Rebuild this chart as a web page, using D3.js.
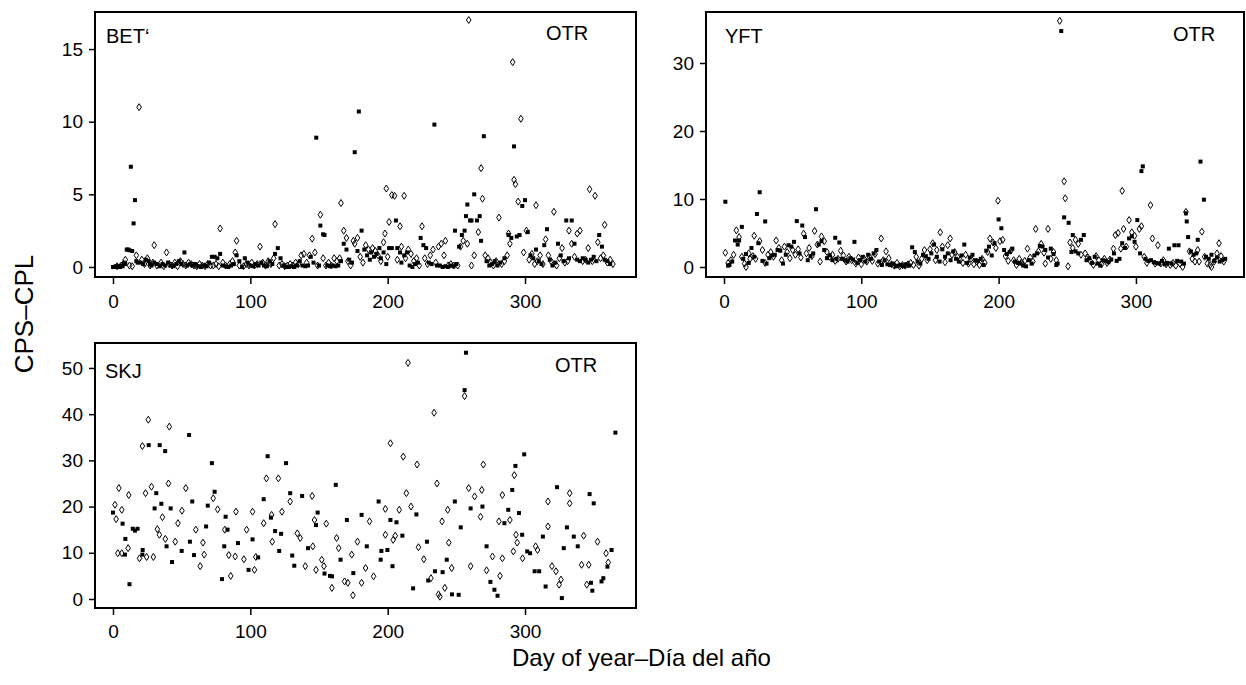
<!DOCTYPE html>
<html>
<head>
<meta charset="utf-8">
<script src="https://cdn.jsdelivr.net/npm/d3@7/dist/d3.min.js"></script>
<style>
  body { margin: 0; background: #fff; }
  svg { display: block; }
  text { font-family: "Liberation Sans", Arial, sans-serif; fill: #000; }
</style>
</head>
<body>
<svg id="chart" width="1246" height="685"></svg>
<script>
// ── Data: [day of year, CPS-CPL] ─────────────────────────────────
const dayTicks = [0, 100, 200, 300];
const betTicks = [0, 5, 10, 15];
const yftTicks = [0, 10, 20, 30];
const skjTicks = [0, 10, 20, 30, 40, 50];

const betSquares = [
  [0,0],[1,0],[2,0.05],[3,0],[4,0.05],[5,0],[6,0.1],[7,0.05],[8,0.3],[9,0.2],
  [10,1.2],[11,1.2],[12,1.15],[13,6.9],[14,1.1],[15,3.0],[16,4.6],[17,0.4],[18,0.3],[20,0.3],
  [22,0.2],[24,0.5],[26,0.4],[27,0.2],[28,0.1],[30,0.3],[32,0.2],[34,0.05],[36,0.2],[38,0.1],
  [40,0.3],[42,0.1],[44,0.05],[46,0.2],[48,0.4],[50,0.2],[52,1.0],[54,0.1],[56,0.2],[58,0.1],
  [60,0.2],[62,0.05],[64,0],[66,0.1],[68,0.05],[70,0.3],[72,0.7],[74,0.7],[76,0.6],[78,0.9],
  [80,0.1],[82,0.05],[84,0],[86,0.1],[88,0.2],[90,0.8],[92,0.4],[94,0],[96,0.6],[98,0.3],
  [100,0.1],[102,0.05],[104,0.2],[106,0.1],[108,0.3],[110,0.1],[112,0.05],[114,0.4],[116,0.2],[118,0.9],
  [120,1.3],[122,0.6],[124,0.1],[126,0],[128,0],[130,0.05],[132,0],[134,0.1],[136,0.4],[138,0.1],
  [140,0.05],[142,0.1],[144,0.7],[146,0.3],[148,8.9],[150,0.1],[151,2.85],[153,2.25],[154,2.2],[156,0.1],
  [158,0.05],[160,0.1],[162,0.05],[164,0.1],[166,0.4],[168,1.6],[170,1.2],[172,0.5],[174,0.3],[176,7.9],
  [178,1.1],[179,10.7],[181,2.5],[183,1.2],[185,0.8],[187,0.5],[188,1.0],[190,0.7],[192,0.9],[194,1.3],
  [195,0.6],[197,1.0],[199,0.2],[201,1.3],[203,1.3],[206,3.2],[207,1.3],[209,1.0],[210,0.3],[212,0.8],
  [214,1.0],[216,0.1],[218,0],[220,0.2],[222,0.3],[224,2.0],[226,1.5],[228,1.3],[230,0.3],[232,0.2],
  [234,9.8],[236,0.1],[238,0.1],[240,0],[242,0.05],[244,0],[246,0.1],[248,0.05],[249,2.5],[250,0.2],
  [252,1.4],[254,2.2],[256,2.5],[257,3.5],[258,4.3],[260,3.2],[261,3.2],[263,5.0],[265,3.2],[267,3.5],
  [268,1.8],[270,9.0],[272,0.4],[274,0.1],[276,0.2],[278,0.4],[280,0.1],[282,0.3],[285,0.6],[288,2.2],
  [290,2.0],[292,8.3],[294,2.1],[296,2.2],[298,4.2],[300,4.6],[302,2.4],[304,0.8],[306,0.6],[308,1.2],
  [310,0.4],[312,0.2],[314,1.5],[316,2.6],[318,0.5],[320,0.1],[322,0.3],[324,1.6],[326,0.8],[328,0.4],
  [330,3.2],[332,0.6],[334,3.2],[336,1.6],[338,0.5],[340,0.4],[342,0.6],[344,0.5],[346,0.3],[348,0.5],
  [350,0.7],[352,0.4],[354,2.2],[356,1.4],[358,0.5],[360,0.4],[362,0.2]
];
const betDiamonds = [
  [3,0.05],[6,0.1],[9,0.5],[12,0.1],[14,0.05],[17,0.8],[19,11.0],[21,0.5],[23,0.2],[25,0.6],
  [27,0.1],[29,0.3],[30,1.5],[32,0.1],[35,0.3],[37,0.05],[39,1.0],[41,0.2],[43,0.1],[45,0.3],
  [47,0.05],[49,0.4],[51,0.2],[53,0.1],[55,0.3],[57,0.2],[59,0.1],[61,0.05],[63,0.2],[65,0.1],
  [67,0.05],[69,0.2],[71,0.1],[73,0.1],[75,0.2],[77,0.05],[78,2.65],[80,0.3],[82,0.1],[85,0.2],
  [87,0.4],[89,1.0],[90,1.8],[92,0.1],[95,0.05],[97,0.2],[99,0.1],[101,0.3],[103,0.1],[105,0.2],
  [107,1.4],[109,0.3],[111,0.1],[113,0.4],[115,0.2],[117,0.6],[118,2.95],[121,0.1],[123,0.2],[125,0.05],
  [127,0.1],[129,0.2],[131,0.1],[133,0.3],[135,0.2],[137,0.8],[139,0.9],[141,0.3],[143,0.8],[145,1.95],
  [147,1.0],[149,0.1],[151,3.6],[153,0.6],[155,0.1],[157,0.3],[159,0.1],[161,0.6],[163,0.4],[165,0.6],
  [166,4.4],[168,2.5],[170,2.0],[171,0.4],[173,0.1],[175,1.8],[176,1.6],[178,2.0],[180,0.7],[182,0.3],
  [184,1.5],[186,1.2],[189,1.3],[191,1.1],[193,0.8],[195,0.4],[197,1.7],[198,2.3],[199,5.4],[200,0.7],
  [201,3.1],[203,4.95],[205,4.9],[207,0.5],[209,2.8],[210,1.4],[212,4.9],[213,0.6],[215,1.2],[217,0.9],
  [219,0.4],[221,0.6],[223,0.1],[225,2.8],[227,0.6],[229,0.2],[231,0.8],[233,1.2],[235,0.3],[237,1.4],
  [239,1.6],[241,0.8],[242,1.8],[244,0.1],[246,0.2],[248,0.1],[251,0.1],[253,1.4],[255,1.8],[258,1.6],
  [259,17.0],[261,0.1],[263,0.8],[266,2.4],[268,6.8],[269,4.7],[271,0.8],[273,0.6],[275,0.3],[277,0.1],
  [279,0.4],[281,3.4],[283,0.2],[285,0.4],[287,0.8],[288,2.3],[289,1.6],[291,14.1],[292,6.0],[293,5.7],
  [295,4.5],[297,10.2],[299,1.0],[301,2.5],[303,0.5],[305,0.9],[307,0.2],[308,4.25],[309,0.4],[311,0.8],
  [313,0.2],[315,1.9],[317,0.8],[319,0.4],[321,3.8],[323,0.1],[325,0.6],[327,1.3],[329,0.3],[331,0.4],
  [332,2.5],[334,1.6],[336,0.7],[338,2.3],[340,2.5],[342,0.4],[344,0.5],[346,1.3],[347,5.35],[349,0.4],
  [351,4.9],[353,1.7],[355,0.6],[357,0.8],[358,2.9],[360,0.3],[362,0.5],[364,0.2]
];

const yftSquares = [
  [1,9.6],[3,0.2],[4,0.3],[6,0.8],[8,3.9],[10,3.3],[11,3.9],[13,5.9],[14,1.2],[16,1.9],
  [18,0.6],[20,2.8],[22,1.5],[24,7.8],[25,3.5],[26,11.0],[28,0.9],[30,6.7],[31,0.5],[33,1.3],
  [35,1.7],[37,1.8],[39,2.5],[41,2.4],[43,0.5],[45,1.8],[47,3.2],[49,3.0],[51,3.7],[53,6.75],
  [55,2.0],[57,6.1],[59,4.4],[61,1.0],[63,1.6],[65,2.0],[67,8.5],[69,3.3],[71,3.8],[73,2.5],
  [75,1.3],[77,1.7],[79,1.0],[81,4.3],[82,1.2],[84,3.6],[86,1.2],[88,1.0],[90,0.8],[92,1.3],
  [94,1.1],[95,3.7],[97,0.6],[99,1.0],[101,1.5],[103,0.8],[105,1.8],[107,1.2],[109,2.0],[111,2.5],
  [113,0.8],[115,0.3],[117,1.0],[119,0.4],[121,0.3],[123,0.5],[125,0.1],[127,0.2],[129,0.3],[131,0.1],
  [133,0.4],[135,0.2],[137,2.9],[139,2.2],[141,0.8],[143,0.5],[145,1.8],[147,1.6],[149,1.2],[151,2.0],
  [153,3.3],[155,1.5],[157,0.8],[159,2.6],[161,1.5],[163,2.0],[165,1.0],[167,2.3],[169,1.2],[171,0.8],
  [173,1.7],[175,3.3],[177,0.6],[179,1.4],[181,1.8],[183,1.0],[185,0.9],[187,1.2],[189,0.3],[191,2.4],
  [193,3.0],[195,1.7],[197,3.5],[200,7.0],[202,5.7],[204,2.5],[206,1.9],[208,2.2],[210,2.7],[212,0.8],
  [214,0.6],[216,0.5],[218,0.2],[220,0.1],[222,1.0],[224,0.5],[226,1.7],[228,2.0],[230,3.1],[232,3.0],
  [234,2.5],[236,1.4],[238,2.7],[240,1.9],[242,0.3],[243,0.5],[245.6,34.7],[247.7,7.3],[251,6.5],[253,2.2],
  [254,4.7],[256,2.3],[258,2.0],[260,4.0],[262,4.7],[264,1.0],[266,1.3],[268,0.6],[270,1.5],[272,0.5],
  [274,0.2],[276,1.0],[278,0.9],[280,0.7],[282,1.1],[284,2.0],[286,0.9],[288,1.2],[290,3.5],[292,2.8],
  [295,4.2],[297,4.5],[299,3.7],[301,6.9],[303,2.0],[304,14.1],[305,14.8],[307,1.2],[309,0.9],[311,1.0],
  [313,0.7],[315,0.6],[317,0.5],[319,0.9],[321,0.4],[323,0.6],[324,2.7],[326,0.5],[328,3.2],[330,0.9],
  [331,3.2],[333,0.8],[335,0.5],[336.4,7.9],[337,6.7],[338,4.4],[340,2.3],[342,1.8],[344,2.0],[345,4.0],
  [347,15.5],[349.5,9.9],[351,1.5],[353,1.2],[355,1.8],[357,0.9],[359,1.4],[361,0.8],[363,1.0],[365,1.2]
];
const yftDiamonds = [
  [1,2.1],[3,0.6],[5,1.0],[7,1.8],[9,5.4],[11,4.4],[13,1.5],[15,0.5],[16,0.0],[18,2.0],
  [19,1.2],[21,1.6],[22,4.6],[23,1.2],[26,3.8],[28,2.5],[30,0.6],[32,1.8],[34,2.2],[36,1.5],
  [38,3.9],[40,2.8],[42,1.0],[44,3.0],[46,2.2],[48,1.3],[50,2.5],[52,1.8],[54,2.6],[56,1.4],
  [58,4.9],[60,2.0],[62,2.8],[64,1.6],[66,5.3],[68,3.3],[70,0.8],[71,4.5],[73,3.8],[75,2.2],
  [77,1.5],[79,1.8],[81,0.9],[83,1.2],[85,2.4],[87,1.7],[89,0.8],[91,1.5],[93,1.0],[96,0.5],
  [98,1.4],[100,0.4],[102,1.2],[104,0.8],[106,1.5],[108,0.9],[110,1.9],[112,0.5],[114.5,4.2],[116,1.0],
  [118,2.3],[120,1.3],[122,0.4],[124,0.2],[126,0.6],[128,0.1],[130,0.3],[132,0.2],[134,0.4],[136,0.6],
  [138,0.3],[140,1.5],[142,0.2],[144,1.2],[146,2.5],[148,1.0],[150,2.6],[152,3.5],[154,1.0],[155,2.5],
  [157.5,5.1],[159,3.0],[161,0.7],[163,3.2],[164.7,4.2],[166,1.8],[168,2.2],[170,1.5],[172,1.0],[174,0.6],
  [176,1.8],[178,0.5],[180,1.2],[182,0.4],[184,0.8],[186,0.3],[188,1.2],[190,0.6],[192,2.2],[193.7,4.2],
  [196,3.6],[198,2.8],[199.5,9.75],[201,3.8],[203,4.0],[205,1.6],[207,0.9],[209,2.4],[211,1.0],[213,0.3],
  [215,1.2],[217,0.6],[219,0.9],[221,2.7],[223,1.4],[225,0.8],[227,5.6],[229,2.3],[231,3.4],[233,2.1],
  [234,0.5],[236,5.6],[238,1.2],[240,2.2],[242,1.0],[244.5,36.2],[247.7,12.6],[248.5,10.1],[250.6,0.1],[252,3.6],
  [254,2.8],[256,4.0],[258,3.4],[260,1.8],[263,2.0],[265,1.4],[267,0.8],[269,0.3],[271,1.6],[273,1.0],
  [275,0.4],[277,1.2],[279,0.6],[281,1.1],[283.6,2.7],[285,4.7],[287,5.0],[289,2.7],[290,11.2],[291,5.6],
  [293,3.0],[295,6.9],[297,5.1],[299,4.6],[300,3.0],[302.5,5.6],[304,6.0],[306,1.5],[308,0.6],[310.6,9.1],
  [312,4.2],[314,0.5],[316,3.2],[318,0.5],[320,1.0],[322,0.4],[325,0.3],[327,0.6],[329,0.2],[332,0.5],
  [334,0.0],[336.4,8.1],[339,2.3],[341,1.2],[343,0.8],[345,2.5],[346,0.8],[348,5.2],[350,1.5],[352,0.5],
  [354,0.3],[355,0.0],[357,0.8],[359,2.0],[360.5,3.5],[362,1.6],[364,0.8]
];

const skjSquares = [
  [0,18.7],[7,16.3],[9,13.0],[8.7,9.6],[12,3.2],[14.4,15.2],[16,14.8],[17.9,15.2],[21.6,10.6],[21.4,9.6],
  [26,33.3],[30.3,19.6],[31.5,22.9],[34,33.3],[35.2,20.6],[38,32.0],[39,11.4],[42,19.6],[43,8.0],[50,10.4],
  [55.4,35.5],[56,12.4],[57.7,21.1],[59,9.5],[67.8,15.7],[69,20.2],[72,29.4],[74,23.2],[79.4,4.3],[81,11.4],
  [82,17.8],[83.4,15.0],[91,12.1],[98.7,6.3],[101.6,12.9],[105.7,9.0],[109.7,21.6],[112.6,30.9],[115,17.6],[118,14.7],
  [121,10.4],[122.4,14.1],[126,29.4],[129,22.9],[130.5,9.4],[132,7.2],[137.7,22.3],[142,11.0],[147.8,16.0],[149,18.7],
  [154,5.5],[158,5.0],[159.5,4.9],[162.2,24.7],[165.7,8.5],[170.3,17.1],[175,5.6],[181,18.2],[184.8,11.4],[193.4,21.1],
  [194.9,8.5],[195.4,10.4],[199.8,10.6],[202,17.1],[203.5,7.1],[206.4,16.6],[210.7,13.7],[218.5,2.3],[220.9,18.3],[228.6,12.4],
  [229.5,4.0],[234.4,6.0],[240,5.8],[243,8.5],[246.8,1.0],[248.9,21.1],[251.7,0.9],[253.2,15.5],[256,45.2],[257,53.3],
  [260.4,19.6],[269,20.0],[272,11.4],[274.8,3.7],[277.7,2.0],[280,0.7],[285,16.4],[287.8,19.3],[290.7,23.6],[293,28.8],
  [295.6,18.6],[297.9,13.9],[299.4,31.3],[301.6,10.3],[303.7,9.9],[307,6.0],[310.3,6.0],[313,13.5],[315,2.7],[323.3,24.2],
  [326.8,0.2],[328.2,11.0],[330.5,15.5],[335.5,13.5],[338.4,11.4],[347,22.7],[348,3.5],[349,1.8],[350,20.7],[355.7,3.8],
  [357,4.5],[360,7.0],[363,10.6],[365.8,36.0]
];
const skjDiamonds = [
  [1.4,20.4],[2.3,17.3],[3.5,9.9],[4.3,24.0],[6.4,19.3],[6.4,9.9],[11,11.0],[11.5,22.5],[19.3,8.8],[21.4,33.1],
  [23.7,22.9],[24.5,9.1],[25.7,38.8],[28,24.3],[29.4,9.1],[32.3,15.1],[33.8,13.9],[36,17.7],[38.1,13.0],[40.4,25.0],
  [41,37.3],[45.3,12.4],[47.3,16.4],[50.2,19.1],[53,24.0],[60.3,15.0],[63.5,7.1],[65.5,12.2],[66.4,9.6],[73,21.8],
  [76.2,19.4],[81.4,15.0],[84.3,9.5],[85.7,5.0],[89,9.2],[89.5,18.9],[95.3,8.6],[97.3,15.0],[101.6,18.9],[103,6.3],
  [104,9.1],[109.7,16.4],[111.7,26.1],[115.5,18.2],[116,12.4],[120.4,26.1],[123,18.9],[129,21.1],[134.2,14.2],[136.3,13.2],
  [140,7.1],[145,22.3],[145.5,11.4],[146.7,17.1],[147.8,6.3],[152,8.5],[153.6,7.1],[155.3,16.3],[159.4,2.4],[162.8,13.2],
  [164.3,11.0],[168.6,3.8],[171,3.5],[173.8,9.6],[174.7,0.8],[178,12.4],[181,3.5],[183.9,6.7],[186.8,16.8],[189.7,4.9],
  [198.3,19.5],[198.3,13.9],[202,33.7],[204,12.8],[205.5,13.7],[208.4,19.3],[211.3,30.8],[213.6,22.9],[214.8,51.1],[217,20.0],
  [221.4,29.1],[222.4,11.2],[226.3,8.6],[231.5,4.5],[233.8,40.3],[235.9,25.0],[237,1.0],[238,0.5],[239.6,16.8],[241.6,2.4],
  [243.7,19.3],[244.5,12.2],[246.6,6.7],[256,43.9],[259,24.0],[260.4,7.1],[263.3,22.2],[267.6,17.8],[268.5,23.6],[269.6,29.1],
  [272,6.2],[276.3,9.2],[281,16.8],[281.8,5.0],[283.5,22.5],[283.5,8.8],[289,17.1],[291.5,10.3],[292.2,26.8],[293.4,13.9],
  [294.3,12.2],[298.2,8.8],[307.7,11.4],[309.1,10.6],[316.7,21.1],[316.7,15.7],[319.6,7.1],[322.5,6.0],[324.8,3.1],[326.2,4.2],
  [332.5,22.9],[332.5,20.7],[341.2,7.4],[342.7,13.7],[345,3.1],[346.4,7.4],[352.8,12.4],[359,9.9],[360.6,7.9]
];

// ── Layout (pixel boxes of the three panels) ─────────────────────
const panels = [
  { label: 'BET\u2018', squares: betSquares, diamonds: betDiamonds, yTicks: betTicks,
    box: { x0: 95, x1: 636, y0: 12, y1: 277 }, xDomain: [-13.1, 380.8], yDomain: [-0.69, 17.55],
    labelAt: [106, 43], otrAt: [546, 40], xLabelGap: 18 },
  { label: 'YFT', squares: yftSquares, diamonds: yftDiamonds, yTicks: yftTicks,
    box: { x0: 706, x1: 1244, y0: 12, y1: 277 }, xDomain: [-13.1, 378.7], yDomain: [-1.47, 37.5],
    labelAt: [725, 43], otrAt: [1173, 41], xLabelGap: 18 },
  { label: 'SKJ', squares: skjSquares, diamonds: skjDiamonds, yTicks: skjTicks,
    box: { x0: 95, x1: 636, y0: 343, y1: 608 }, xDomain: [-13.1, 380.8], yDomain: [-1.95, 55.4],
    labelAt: [105, 378], otrAt: [555, 372], xLabelGap: 17 }
];

const svg = d3.select('#chart');

function drawPanel(p) {
  const b = p.box;
  const x = d3.scaleLinear().domain(p.xDomain).range([b.x0, b.x1]);
  const y = d3.scaleLinear().domain(p.yDomain).range([b.y1, b.y0]);
  const g = svg.append('g');

  // axes (ticks outside the frame, no domain line)
  g.append('g')
    .attr('transform', `translate(0,${b.y1})`)
    .call(d3.axisBottom(x).tickValues(dayTicks).tickSize(7).tickPadding(p.xLabelGap - 7))
    .call(a => a.select('.domain').remove())
    .call(a => a.selectAll('line').attr('stroke', '#000').attr('stroke-width', 1.5))
    .call(a => a.selectAll('text').attr('font-size', 19).attr('font-family', '"Liberation Sans", Arial, sans-serif').attr('fill', '#000'));

  g.append('g')
    .attr('transform', `translate(${b.x0},0)`)
    .call(d3.axisLeft(y).tickValues(p.yTicks).tickSize(6).tickPadding(6))
    .call(a => a.select('.domain').remove())
    .call(a => a.selectAll('line').attr('stroke', '#000').attr('stroke-width', 1.5))
    .call(a => a.selectAll('text').attr('font-size', 19).attr('font-family', '"Liberation Sans", Arial, sans-serif').attr('fill', '#000'));

  // points: filled squares and open diamonds
  const pts = g.append('g');
  pts.selectAll('rect').data(p.squares).join('rect')
    .attr('x', d => x(d[0]) - 2).attr('y', d => y(d[1]) - 2)
    .attr('width', 4).attr('height', 4)
    .attr('fill', '#000');

  const diamond = 'M0,-3.5L2.3,0L0,3.5L-2.3,0Z';
  pts.selectAll('path').data(p.diamonds).join('path')
    .attr('d', diamond)
    .attr('transform', d => `translate(${x(d[0])},${y(d[1])})`)
    .attr('fill', 'none').attr('stroke', '#000').attr('stroke-width', 1);

  // frame
  g.append('rect')
    .attr('x', b.x0).attr('y', b.y0)
    .attr('width', b.x1 - b.x0).attr('height', b.y1 - b.y0)
    .attr('fill', 'none').attr('stroke', '#000').attr('stroke-width', 2);

  g.append('text').attr('x', p.labelAt[0]).attr('y', p.labelAt[1])
    .attr('font-size', 20).text(p.label);
  g.append('text').attr('x', p.otrAt[0]).attr('y', p.otrAt[1])
    .attr('font-size', 20).text('OTR');
}

panels.forEach(drawPanel);

// axis titles
svg.append('text')
  .attr('transform', 'translate(33,314) rotate(-90)')
  .attr('text-anchor', 'middle')
  .attr('font-size', 26)
  .text('CPS\u2013CPL');

svg.append('text')
  .attr('x', 512).attr('y', 666)
  .attr('font-size', 24)
  .text('Day of year\u2013Día del año');
</script>
</body>
</html>
